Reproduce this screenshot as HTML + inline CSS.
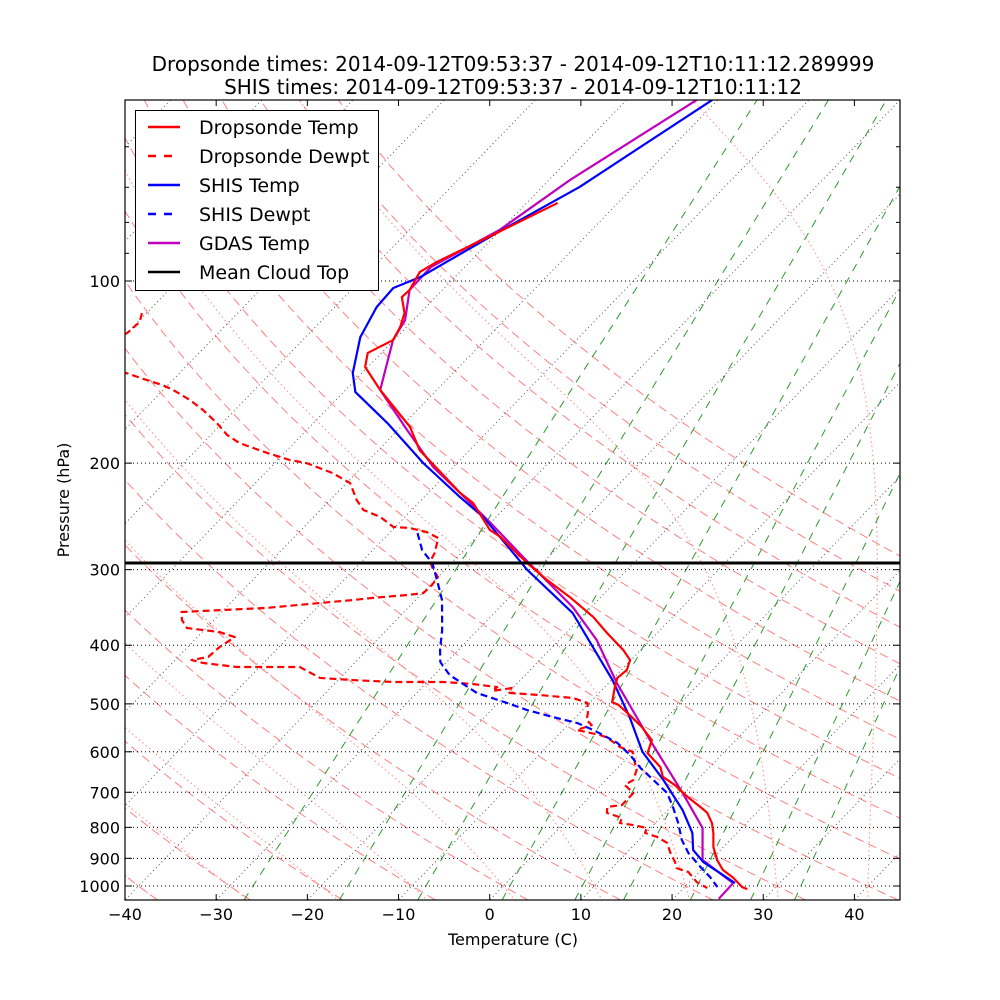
<!DOCTYPE html>
<html><head><meta charset="utf-8"><style>
html,body{margin:0;padding:0;background:#fff;}
svg{display:block;font-family:"DejaVu Sans","Liberation Sans",sans-serif;}
</style></head><body>
<svg id="chart" width="1000" height="1000" viewBox="0 0 1000 1000" xmlns="http://www.w3.org/2000/svg">
<defs><clipPath id="clip"><rect x="125" y="100" width="775" height="800"/></clipPath></defs>
<rect x="0" y="0" width="1000" height="1000" fill="#fff"/>
<text x="513" y="71" font-size="20" text-anchor="middle">Dropsonde times: 2014-09-12T09:53:37 - 2014-09-12T10:11:12.289999</text>
<text x="513" y="94" font-size="20" text-anchor="middle">SHIS times: 2014-09-12T09:53:37 - 2014-09-12T10:11:12</text>
<g id="bg" clip-path="url(#clip)"></g>
<g id="series" clip-path="url(#clip)"></g>
<rect x="125" y="100" width="775" height="800" fill="none" stroke="#000" stroke-width="1.2"/>
<g id="axes"></g>
<text x="513" y="945" font-size="16" text-anchor="middle">Temperature (C)</text>
<text x="69" y="500" font-size="16" text-anchor="middle" transform="rotate(-90 69 500)">Pressure (hPa)</text>
<g id="legend">
<rect x="135.5" y="110.5" width="243" height="180" fill="#fff" stroke="#000" stroke-width="1"/>
</g>
</svg>
<script>
const sondeP=[74.3,83.3,93,96.6,103.5,106.3,113,119.1,125.2,131.5,138.7,151.4,174.3,190.3,224,232.8,257.9,264.9,292.5,312.1,333,359.3,381.8,407.4,423.2,439.5,453,469,496.6,502,521.7,546,574,603,636,660,681,713,740,757,787,817,862,906,941,970,1004,1012];
const sondeT=[-66.6,-70.1,-73.6,-74.4,-73.6,-73.7,-71.7,-70.7,-70.1,-71.5,-70.3,-66.2,-59.0,-55.5,-46.5,-44.0,-39.3,-37.4,-31.7,-27.7,-23.4,-18.7,-15.5,-11.9,-10.1,-9.4,-9.6,-8.9,-7.6,-6.6,-4.3,-1.7,0.8,1.7,4.6,5.9,8.1,10.8,13.2,14.6,16.2,17.4,18.9,20.7,22.4,24.4,26.3,27.1];
const sondeDewP=[113,116.9,121.9,135,142,144.6,148.6,151.4,157.3,163.4,171.7,179.7,185.3,192.4,197.6,200,207.7,215.8,230.1,239,245.5,255,256,260,266,281.7,291,300,308.5,318,328,330.4,334,336.8,340.6,347,350,352.5,363.4,374.6,380.4,387.7,402.7,418.3,423.2,428,434.5,434.5,453,456.7,460,460,463.6,469,476,470.7,479.7,483.4,489,498.4,517.6,531.7,542,552.3,563,569,589,600,643,668,681,702,735,740,757,772,787,793,802,817,830,849,879,913,934,948,985,1008];
const sondeDewT=[-100.5,-99.8,-100.0,-106,-95.8,-93.8,-90.6,-88.9,-86.0,-83.5,-80.6,-78.2,-76.0,-71.9,-68.7,-66.5,-62.6,-59.6,-57.1,-55.3,-52.7,-50.2,-48.3,-46.0,-44.1,-42.9,-42.5,-41.3,-40.0,-39.8,-39.9,-41.5,-44.9,-46.9,-50.2,-55.5,-60.4,-64.4,-63.5,-62.1,-58.1,-55.9,-56.5,-56.7,-58.2,-56.6,-52.5,-45.6,-42.2,-38.4,-33.8,-28.3,-24.8,-21.8,-21.9,-20.1,-19.8,-16.3,-12.3,-10.2,-9.1,-8.5,-7.4,-8.5,-5.4,-4.3,-2.0,-0.1,2.3,3.0,2.6,4.4,4.4,3.0,3.6,5.8,6.1,7.8,9.6,9.9,11.7,13.4,14.7,16.3,17.1,18.8,20.8,22.6];
const shisP=[50.2,69.9,83.3,98.5,102.7,110.4,123.8,142,152.6,171.7,200,227.5,245.5,300,353.8,456.7,525.6,600,668,749,817,872,913,952,989];
const shisT=[-60.6,-65.9,-70.1,-73.8,-75.6,-75.4,-74.0,-71.0,-68.7,-61.9,-53.7,-46.1,-41.4,-31.0,-21.4,-9.9,-4.1,1.0,6.3,11.6,15.1,17.0,19.4,22.4,25.1];
const shisDewP=[261,278.4,292.5,314.5,336.8,377.5,407.4,426.4,448,479.7,498.4,511.8,527.6,537.8,552.3,563,580,607.5,638,668,702,740,787,839.5,882,930,966,1004];
const shisDewT=[-46.9,-44.6,-42.1,-39.5,-37.1,-33.9,-32.0,-30.7,-28.3,-23.4,-19.0,-16.1,-12.0,-9.2,-6.7,-5.1,-2.7,0.0,2.5,5.2,8.1,10.2,12.5,14.7,16.8,19.6,21.7,23.6];
const gdasP=[50.2,68.1,82.3,94.8,103.5,116,125.2,151.4,176.3,203,224,251,291,346,392,462,574,702,802,906,989,1050];
const gdasT=[-62.3,-67.7,-70.1,-73.7,-73.6,-70.9,-70.1,-66.2,-59.0,-52.2,-46.5,-40.0,-31.8,-22.0,-15.9,-9.1,0.6,9.8,15.7,19.1,24.9,25.0];
const cloudTopP=[292.5];
const xTicks=[-40,-30,-20,-10,0,10,20,30,40];
const yTicks=[100,200,300,400,500,600,700,800,900,1000];
const yMinor=[60,70,80,90];
const mixRatios=[0.0004,0.001,0.002,0.004,0.007,0.01,0.016,0.024,0.032];

const NS="http://www.w3.org/2000/svg";
const PB=1054.6, PT=50.2;
function yp(p){return 281+605*Math.log10(p/100);}
function xp(T,p){return 125+775*((T+40)/85+(900-yp(p))/800);}
function mk(tag,attrs,parent){const e=document.createElementNS(NS,tag);for(const k in attrs)e.setAttribute(k,attrs[k]);parent.appendChild(e);return e;}
function pathOf(Ps,Ts){let d="";for(let i=0;i<Ps.length;i++){d+=(i?"L":"M")+xp(Ts[i],Ps[i]).toFixed(2)+","+yp(Ps[i]).toFixed(2);}return d;}
const bg=document.getElementById('bg'), ser=document.getElementById('series'), ax=document.getElementById('axes');
function presList(){const a=[];for(let p=PB;p>=PT-1;p-=10)a.push(p);a.push(PT-2);return a;}
// dry adiabats
for(let th=-50;th<=130;th+=10){const ps=presList(),ts=ps.map(p=>(th+273.15)*Math.pow(p/1000,0.2857)-273.15);
 const e=mk('path',{d:pathOf(ps,ts),fill:'none',stroke:'#ff8080','stroke-width':1,'stroke-dasharray':'9,5'},bg);
 
 }
// moist adiabats
function dTdp(T,p){const es=6.112*Math.exp(17.67*(T-273.15)/(T-29.65));const rs=0.622*es/(p-es);
 return (287.04*T+2.501e6*rs)/(1005.7+2.501e6*2.501e6*rs*0.622/(287.04*T*T))/p;}
for(let t0=-40;t0<=40;t0+=10){let ps=[],ts=[];let T=t0+273.15;
 for(let p=1000;p>=PT-3;p-=5){ps.push(p);ts.push(T-273.15);T-=dTdp(T,p)*5;}
 let T2=t0+273.15,up=[],ut=[];for(let p=1000;p<=PB+5;p+=5){T2+=dTdp(T2,p)*5;up.push(p+5);ut.push(T2-273.15);}
 ps=up.reverse().concat(ps);ts=ut.reverse().concat(ts);
 const e=mk('path',{d:pathOf(ps,ts),fill:'none',stroke:'#ff9a9a','stroke-width':1.2,'stroke-dasharray':'1.5,3'},bg);
 
 }
// mixing ratio lines
mixRatios.forEach(w=>{const ps=[PB,PT-2];const ts=ps.map(p=>{const e=p*w/(0.622+w);const l=Math.log(e/6.112);return 243.5*l/(17.67-l);});
 const e=mk('path',{d:pathOf(ps,ts),fill:'none',stroke:'#2e9a2e','stroke-width':1,'stroke-dasharray':'8,7'},bg);
 
 });
// isotherms
for(let t=-200;t<=60;t+=10){const e=mk('path',{d:pathOf([PB+10,PT-5],[t,t]),fill:'none',stroke:'#555','stroke-width':1,'stroke-dasharray':'1,3'},bg);
 
 }
// horizontal grid
yTicks.forEach(p=>{const e=mk('line',{x1:125,x2:900,y1:yp(p),y2:yp(p),stroke:'#000','stroke-width':1,'stroke-dasharray':'1,3'},bg);
 
 });
// series
function series(P,T,color,dash,name){const e=mk('path',{d:pathOf(P,T),fill:'none',stroke:color,'stroke-width':2.2,'stroke-linejoin':'round'},ser);
 if(dash)e.setAttribute('stroke-dasharray','7,4');
 
 }
series(sondeDewP,sondeDewT,'#ff0000',true,'dropsonde-dewpt-line');
series(shisDewP,shisDewT,'#0000ff',true,'shis-dewpt-line');
series(gdasP,gdasT,'#bf00bf',false,'gdas-temp-line');
series(shisP,shisT,'#0000ff',false,'shis-temp-line');
series(sondeP,sondeT,'#ff0000',false,'dropsonde-temp-line');
cloudTopP.forEach(p=>{const e=mk('line',{x1:125,x2:900,y1:yp(p),y2:yp(p),stroke:'#000','stroke-width':3},ser);
 
 });
// axes ticks
xTicks.forEach(t=>{const x=125+775*(t+40)/85;
 const a=mk('line',{x1:x,x2:x,y1:900,y2:894,stroke:'#000','stroke-width':1},ax);
 
 
 const b=mk('line',{x1:x,x2:x,y1:100,y2:106,stroke:'#000','stroke-width':1},ax);
 
 
 const l=mk('text',{x:x,y:920,'font-size':16,'text-anchor':'middle'},ax);l.textContent=(t<0?'\u2212'+(-t):''+t);
 
 });
yTicks.concat(yMinor).forEach(p=>{const y=yp(p),major=p>=100,len=major?7:4;
 const a=mk('line',{x1:125,x2:125+len,y1:y,y2:y,stroke:'#000','stroke-width':1},ax);
 
 
 const b=mk('line',{x1:900,x2:900-len,y1:y,y2:y,stroke:'#000','stroke-width':1},ax);
 
 
 if(major){const l=mk('text',{x:120,y:y+6,'font-size':16,'text-anchor':'end'},ax);l.textContent=''+p;
 
 }});
// legend
const leg=document.getElementById('legend');
const items=[['Dropsonde Temp','#ff0000',false],['Dropsonde Dewpt','#ff0000',true],['SHIS Temp','#0000ff',false],['SHIS Dewpt','#0000ff',true],['GDAS Temp','#bf00bf',false],['Mean Cloud Top','#000',false]];
items.forEach((it,i)=>{const y=127+29*i;
 const g=mk('g',{},leg);
 
 
 const ln=mk('line',{x1:148,x2:180,y1:y,y2:y,stroke:it[1],'stroke-width':2.5},g);
 if(it[2])ln.setAttribute('stroke-dasharray','8,8');
 
 
 const t=mk('text',{x:199,y:y+7,'font-size':19},g);t.textContent=it[0];
 
 });
</script>
</body></html>
